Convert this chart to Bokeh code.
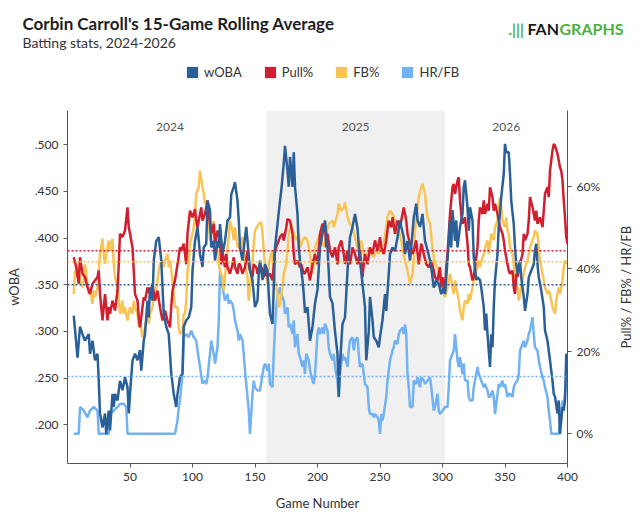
from math import pi

from bokeh.plotting import figure
from bokeh.layouts import column, row
from bokeh.models import (Range1d, LinearAxis, FixedTicker, BoxAnnotation, Span,
                          Label, Legend, LegendItem)
from bokeh.core.properties import value
from bokeh.embed import file_html
from bokeh.resources import INLINE

# 15-game rolling averages, (game number, value)
woba_pts = [
    (5, .317), (8, .272), (10, .305), (12, .297), (14, .290), (17, .297), (18, .276), (20, .290),
    (22, .269), (24, .276), (25, .247), (26, .212), (28, .197), (30, .212), (31, .190), (33, .215),
    (34, .194), (36, .233), (37, .219), (38, .233), (40, .226), (42, .247), (44, .237), (46, .251),
    (48, .240), (49, .212), (50, .233), (52, .269), (54, .276), (56, .269), (58, .280), (59, .258),
    (61, .290), (62, .297), (64, .333), (65, .315), (66, .347), (68, .333), (69, .376), (71, .397),
    (73, .401), (75, .376), (77, .319), (79, .305), (81, .297), (83, .255), (85, .233), (87, .219),
    (88, .233), (90, .251), (92, .255), (93, .305), (95, .312), (97, .315), (99, .326), (100, .365),
    (102, .397), (104, .412), (106, .383), (108, .369), (109, .390), (111, .394), (112, .440),
    (114, .430), (115, .390), (117, .397), (118, .376), (120, .397), (121, .390), (122, .415),
    (124, .383), (126, .397), (128, .419), (130, .422), (131, .447), (133, .455), (134, .460),
    (136, .440), (137, .419), (138, .390), (140, .376), (142, .401), (143, .412), (144, .397),
    (146, .365), (148, .355), (149, .340), (150, .326), (152, .333), (153, .362), (154, .376),
    (156, .355), (158, .372), (160, .365), (161, .340), (162, .319), (164, .308), (165, .347),
    (166, .390), (168, .415), (170, .440), (171, .451), (173, .480), (174, .499), (176, .472),
    (177, .455), (178, .487), (180, .455), (181, .492), (182, .455), (184, .426), (185, .390),
    (186, .376), (188, .355), (189, .340), (190, .320), (192, .326), (194, .290), (196, .305),
    (198, .330), (200, .345), (202, .390), (204, .405), (206, .419), (208, .390), (210, .337),
    (212, .330), (214, .300), (216, .276), (217, .230), (218, .265), (220, .308), (222, .315),
    (224, .365), (226, .401), (228, .412), (230, .426), (232, .410), (234, .376), (236, .351),
    (238, .326), (239, .269), (241, .300), (242, .337), (244, .312), (245, .294), (247, .290),
    (249, .283), (250, .294), (252, .312), (254, .340), (255, .322), (257, .362), (258, .383),
    (260, .390), (262, .386), (264, .401), (266, .419), (267, .412), (269, .401), (270, .383),
    (272, .397), (274, .376), (275, .390), (277, .422), (279, .437), (280, .419), (282, .412),
    (284, .426), (286, .397), (288, .387), (290, .376), (291, .369), (293, .347), (295, .355),
    (297, .351), (299, .340), (301, .347), (302, .340), (304, .376), (306, .419), (307, .390),
    (308, .430), (310, .397), (311, .419), (312, .390), (314, .412), (316, .426), (317, .455),
    (318, .462), (320, .433), (321, .408), (322, .433), (324, .419), (325, .380), (327, .355),
    (328, .358), (330, .355), (331, .347), (333, .326), (334, .301), (335, .319), (336, .297),
    (338, .262), (339, .297), (340, .283), (341, .326), (342, .355), (344, .383), (345, .412),
    (347, .444), (349, .469), (350, .501), (351, .492), (353, .492), (354, .469), (355, .440),
    (357, .415), (358, .390), (359, .372), (360, .362), (362, .376), (363, .358), (365, .337),
    (366, .322), (368, .340), (369, .358), (371, .365), (373, .372), (374, .387), (375, .394),
    (376, .372), (377, .358), (379, .344), (381, .326), (382, .301), (384, .290), (386, .269),
    (388, .247), (389, .233), (390, .230), (392, .212), (393, .226), (394, .190), (396, .219),
    (397, .215), (398, .226), (399, .276), (400, .269),
]

pull_pts = [
    (5, 42.8), (7, 40.4), (9, 36.4), (10, 42.8), (12, 38.8), (14, 38.0), (16, 35.5), (18, 33.9),
    (20, 36.4), (22, 37.2), (24, 38.0), (25, 39.6), (26, 33.9), (28, 27.5), (29, 30.7), (30, 33.9),
    (32, 27.5), (33, 30.7), (34, 29.1), (36, 32.3), (38, 29.9), (40, 34.7), (41, 41.1), (42, 48.5),
    (44, 47.7), (46, 49.3), (48, 54.9), (49, 50.1), (50, 48.5), (52, 45.2), (53, 39.6), (54, 33.9),
    (56, 32.3), (57, 28.3), (58, 25.8), (60, 30.7), (61, 33.1), (62, 32.3), (64, 35.5), (66, 33.9),
    (68, 36.4), (70, 32.3), (72, 34.7), (74, 30.7), (76, 27.5), (78, 29.9), (80, 27.5), (82, 25.8),
    (83, 30.7), (84, 34.7), (86, 37.2), (88, 41.1), (90, 45.2), (91, 44.4), (93, 46.1), (95, 41.1),
    (96, 48.5), (98, 54.1), (100, 52.5), (102, 54.5), (103, 51.7), (104, 50.1), (106, 53.3),
    (107, 54.9), (108, 51.7), (110, 53.3), (112, 56.6), (113, 53.3), (115, 48.5), (117, 50.9),
    (118, 46.1), (120, 49.3), (122, 46.9), (123, 41.1), (124, 44.4), (126, 40.4), (127, 43.6),
    (128, 40.4), (130, 38.8), (132, 41.1), (133, 42.8), (134, 40.4), (136, 38.8), (137, 41.2),
    (138, 41.1), (140, 38.8), (142, 40.4), (144, 44.4), (145, 41.1), (146, 39.6), (148, 38.0),
    (149, 41.1), (151, 40.4), (152, 38.8), (154, 41.2), (156, 39.6), (157, 38.0), (159, 39.6),
    (160, 38.0), (162, 38.8), (164, 37.2), (166, 44.4), (168, 46.1), (170, 47.7), (172, 48.5),
    (173, 46.9), (175, 50.1), (176, 52.1), (178, 51.7), (180, 48.5), (181, 43.6), (182, 41.1),
    (184, 42.0), (186, 40.4), (187, 41.1), (189, 38.8), (190, 39.0), (192, 40.4), (194, 37.2),
    (196, 41.1), (198, 43.6), (200, 41.1), (202, 48.5), (204, 50.9), (206, 50.1), (207, 45.2),
    (208, 48.5), (210, 44.4), (212, 42.8), (214, 45.2), (216, 41.1), (217, 45.2), (219, 46.9),
    (221, 43.6), (222, 41.2), (224, 44.4), (226, 41.1), (228, 45.2), (230, 43.6), (232, 41.1),
    (234, 44.4), (236, 38.0), (237, 41.2), (238, 43.6), (240, 41.1), (242, 45.2), (244, 43.6),
    (246, 46.9), (248, 44.4), (250, 47.7), (251, 45.2), (253, 43.6), (255, 46.9), (257, 51.7),
    (259, 50.1), (260, 52.5), (262, 48.5), (264, 51.7), (266, 50.1), (268, 53.3), (269, 54.9),
    (271, 51.7), (272, 48.5), (274, 46.1), (276, 43.6), (277, 44.4), (279, 46.9), (281, 41.1),
    (283, 46.1), (285, 43.6), (287, 41.2), (289, 40.4), (291, 42.0), (293, 39.6), (294, 38.0),
    (296, 37.2), (298, 40.4), (299, 35.5), (300, 38.0), (302, 34.7), (303, 40.4), (304, 43.6),
    (305, 48.5), (306, 53.3), (308, 59.8), (309, 60.6), (310, 58.2), (312, 61.4), (313, 62.2),
    (314, 56.6), (315, 53.3), (316, 50.9), (318, 52.5), (319, 49.3), (320, 46.1), (321, 41.1),
    (322, 40.4), (324, 37.2), (325, 38.0), (326, 40.4), (328, 45.2), (329, 51.7), (330, 54.9),
    (332, 53.3), (333, 56.6), (334, 53.3), (336, 55.8), (337, 54.1), (338, 59.8), (340, 57.4),
    (341, 54.1), (342, 55.8), (344, 53.3), (345, 51.7), (346, 50.1), (348, 48.5), (349, 46.9),
    (350, 44.4), (352, 41.1), (353, 39.6), (354, 38.8), (356, 39.6), (357, 35.5), (358, 33.9),
    (359, 38.8), (360, 38.0), (362, 41.1), (364, 43.6), (365, 48.5), (366, 46.9), (368, 48.5),
    (369, 51.7), (370, 57.4), (372, 55.0), (374, 51.7), (375, 54.1), (376, 50.9), (378, 52.5),
    (380, 50.1), (381, 54.1), (382, 58.2), (384, 59.8), (385, 57.4), (386, 63.8), (388, 68.7),
    (389, 70.3), (390, 69.9), (392, 67.9), (393, 66.3), (394, 64.6), (395, 63.8), (396, 61.4),
    (397, 56.6), (398, 52.5), (399, 47.7), (400, 46.0),
]

fb_pts = [
    (5, 33.9), (6, 39.6), (8, 38.0), (9, 41.2), (10, 37.2), (12, 35.5), (13, 37.2), (14, 41.2),
    (16, 36.4), (17, 33.9), (18, 35.5), (20, 31.5), (21, 34.7), (22, 33.1), (24, 35.5), (25, 39.6),
    (26, 43.6), (28, 47.3), (29, 43.6), (30, 41.2), (32, 45.2), (33, 46.9), (34, 44.4), (36, 47.3),
    (37, 41.1), (38, 38.0), (40, 35.5), (41, 32.3), (42, 29.1), (44, 32.3), (45, 29.1), (46, 30.7),
    (48, 27.5), (49, 29.1), (50, 30.7), (52, 29.1), (53, 32.3), (54, 30.7), (56, 29.1), (57, 25.8),
    (58, 27.5), (60, 23.4), (61, 24.2), (62, 25.8), (64, 29.1), (65, 26.7), (66, 29.1), (68, 30.7),
    (69, 33.9), (70, 32.3), (72, 37.2), (73, 39.6), (74, 41.2), (76, 42.0), (77, 40.4), (78, 42.0),
    (80, 43.6), (81, 40.4), (82, 42.0), (84, 37.2), (85, 33.9), (86, 30.7), (88, 30.7), (89, 25.8),
    (90, 24.2), (92, 25.0), (93, 29.1), (94, 29.1), (95, 32.3), (96, 39.6), (97, 41.2), (98, 46.1),
    (100, 48.5), (101, 50.1), (102, 53.3), (103, 58.2), (105, 59.8), (106, 63.8), (108, 59.8),
    (109, 58.2), (110, 55.8), (112, 56.6), (113, 51.7), (114, 46.9), (116, 49.3), (117, 51.7),
    (118, 45.2), (119, 47.7), (121, 41.1), (122, 39.6), (124, 38.0), (125, 34.7), (126, 38.0),
    (128, 45.2), (129, 47.7), (130, 51.7), (132, 49.3), (133, 46.9), (134, 50.1), (136, 45.2),
    (137, 46.1), (138, 44.4), (140, 47.7), (141, 45.2), (142, 41.1), (144, 38.0), (145, 32.3),
    (146, 35.5), (148, 41.1), (149, 46.1), (150, 49.3), (153, 50.9), (155, 51.3), (156, 48.5),
    (157, 44.4), (158, 41.1), (159, 38.8), (160, 36.4), (161, 41.1), (163, 43.6), (164, 44.4),
    (165, 40.4), (166, 37.2), (168, 33.9), (169, 30.7), (170, 31.5), (172, 35.5), (173, 38.8),
    (175, 41.1), (176, 44.4), (177, 48.5), (179, 50.9), (181, 48.5), (183, 46.9), (185, 48.5),
    (186, 45.2), (188, 46.9), (190, 47.7), (192, 46.9), (194, 43.6), (196, 38.8), (197, 41.2),
    (198, 45.2), (200, 46.9), (202, 48.5), (204, 46.1), (206, 45.2), (207, 48.5), (209, 50.9),
    (212, 51.7), (213, 50.1), (216, 53.3), (217, 55.8), (219, 54.1), (221, 54.9), (222, 56.1),
    (224, 52.5), (226, 50.9), (228, 50.1), (230, 47.7), (232, 45.2), (233, 43.6), (235, 46.9),
    (237, 43.6), (239, 42.0), (241, 45.2), (243, 43.6), (245, 42.8), (247, 44.4), (249, 43.6),
    (251, 45.2), (253, 46.1), (255, 50.1), (256, 52.5), (258, 54.1), (260, 53.3), (262, 51.7),
    (264, 48.5), (265, 49.3), (267, 46.9), (269, 43.6), (270, 42.0), (272, 39.6), (273, 38.0),
    (274, 36.4), (276, 38.8), (277, 42.0), (278, 49.3), (280, 54.9), (281, 57.4), (283, 59.8),
    (284, 60.6), (286, 58.2), (287, 55.0), (288, 52.5), (290, 51.0), (292, 45.0), (294, 41.2),
    (296, 40.4), (298, 37.2), (300, 35.0), (302, 33.1), (304, 35.5), (305, 37.2), (306, 38.8),
    (308, 35.5), (309, 33.9), (310, 37.2), (312, 33.9), (313, 32.3), (314, 29.9), (316, 27.5),
    (317, 30.7), (318, 32.3), (320, 31.5), (321, 33.9), (322, 32.3), (324, 35.5), (325, 37.2),
    (326, 38.8), (328, 40.4), (329, 42.0), (330, 40.4), (332, 42.8), (333, 43.6), (334, 45.2),
    (336, 46.9), (337, 43.6), (338, 46.1), (339, 48.5), (341, 46.9), (342, 50.1), (344, 51.7),
    (345, 55.0), (346, 57.4), (347, 55.0), (348, 51.7), (350, 50.1), (351, 52.5), (352, 49.3),
    (353, 48.5), (354, 45.2), (356, 43.6), (357, 41.2), (358, 38.0), (360, 35.5), (361, 32.3),
    (362, 33.9), (364, 37.2), (365, 38.8), (366, 40.4), (368, 42.0), (369, 43.6), (370, 45.2),
    (372, 46.9), (373, 47.7), (374, 49.3), (376, 48.5), (377, 45.2), (378, 42.0), (380, 38.8),
    (381, 37.2), (382, 35.5), (384, 33.9), (385, 34.7), (386, 33.9), (388, 30.7), (389, 29.9),
    (390, 29.1), (391, 32.3), (393, 35.5), (394, 33.9), (396, 37.2), (397, 40.4), (398, 42.0),
    (400, 41.2),
]

hrfb_pts = [
    (5, 0.0), (9, 0.0), (10, 6.5), (13, 5.6), (16, 4.0), (18, 5.6), (21, 6.5), (24, 5.6), (25, 0.0),
    (33, 0.0), (34, 4.8), (37, 5.6), (40, 6.5), (42, 7.3), (45, 7.3), (47, 6.5), (48, 0.0), (86, 0.0),
    (88, 3.2), (89, 6.5), (90, 8.1), (92, 14.5), (93, 23.4), (95, 24.2), (97, 23.4), (99, 25.0),
    (101, 23.4), (103, 22.6), (104, 20.2), (106, 16.2), (108, 12.1), (109, 12.9), (111, 12.1),
    (112, 13.7), (114, 19.4), (115, 22.6), (117, 19.4), (118, 17.0), (120, 21.0), (121, 27.5),
    (122, 39.6), (124, 35.5), (125, 33.9), (126, 32.3), (128, 33.9), (129, 31.5), (130, 32.3),
    (132, 31.5), (133, 29.9), (134, 27.5), (136, 25.0), (137, 22.6), (138, 24.2), (140, 22.6),
    (141, 19.4), (142, 15.3), (144, 8.9), (145, 5.6), (146, 0.0), (148, 9.7), (149, 12.9),
    (150, 11.3), (152, 10.5), (154, 10.5), (156, 14.5), (157, 16.2), (158, 17.0), (160, 15.3),
    (161, 17.0), (162, 12.1), (164, 11.3), (165, 19.4), (166, 25.8), (167, 30.7), (168, 33.1),
    (170, 35.5), (171, 33.9), (173, 32.3), (174, 29.1), (176, 30.7), (177, 25.8), (178, 26.7),
    (180, 24.2), (181, 27.5), (182, 21.0), (184, 24.2), (185, 19.4), (186, 18.6), (188, 16.2),
    (189, 17.8), (190, 14.5), (191, 19.4), (193, 17.8), (194, 15.4), (196, 12.9), (197, 12.1),
    (198, 14.5), (200, 24.2), (201, 25.8), (202, 24.2), (204, 25.8), (205, 24.2), (206, 26.7),
    (208, 25.0), (209, 21.0), (210, 19.4), (212, 17.8), (213, 19.4), (214, 16.2), (216, 12.9),
    (217, 8.9), (218, 14.5), (220, 19.4), (221, 17.8), (222, 18.6), (224, 16.2), (225, 20.2),
    (226, 22.6), (228, 23.4), (229, 20.2), (230, 22.6), (232, 23.4), (233, 19.4), (234, 16.2),
    (236, 17.0), (237, 14.5), (238, 12.1), (240, 11.3), (241, 6.5), (242, 4.8), (244, 4.8),
    (245, 4.0), (246, 4.8), (248, 4.0), (249, 3.2), (250, 0.0), (251, 4.8), (252, 3.2), (253, 4.8),
    (255, 8.9), (256, 12.9), (258, 17.8), (260, 20.2), (261, 21.0), (262, 22.6), (264, 21.8),
    (265, 24.2), (266, 25.0), (268, 25.8), (269, 24.2), (270, 26.5), (271, 24.2), (272, 14.5),
    (273, 11.3), (274, 6.5), (276, 6.5), (277, 12.9), (279, 12.1), (280, 13.7), (282, 11.3),
    (283, 13.7), (285, 12.9), (286, 12.1), (288, 12.9), (290, 13.7), (291, 11.3), (293, 5.6),
    (294, 6.5), (296, 9.7), (297, 5.6), (298, 4.8), (300, 5.6), (302, 6.5), (304, 6.5), (305, 11.3),
    (306, 17.8), (308, 19.4), (309, 20.2), (310, 24.2), (312, 17.8), (313, 16.2), (314, 18.6),
    (316, 14.5), (317, 17.0), (318, 12.9), (320, 12.9), (321, 8.9), (322, 8.1), (324, 8.1),
    (325, 11.3), (326, 12.9), (328, 16.2), (329, 14.5), (330, 13.7), (332, 12.1), (333, 11.3),
    (334, 12.1), (336, 10.5), (337, 8.9), (338, 8.9), (340, 10.5), (341, 8.9), (342, 4.8),
    (344, 9.7), (345, 12.1), (346, 11.3), (348, 12.9), (349, 11.3), (350, 12.1), (352, 8.9),
    (353, 9.7), (354, 9.7), (356, 8.9), (357, 11.3), (358, 12.1), (360, 12.9), (361, 14.5),
    (362, 20.2), (364, 21.8), (365, 22.6), (366, 21.0), (368, 22.6), (369, 24.2), (370, 25.0),
    (372, 28.3), (373, 24.2), (374, 21.0), (376, 20.2), (377, 17.8), (378, 16.2), (380, 13.7),
    (381, 12.9), (382, 11.3), (384, 8.9), (385, 5.6), (386, 3.2), (387, 0.0), (393, 0.0),
    (394, 3.2), (396, 8.1), (397, 6.5), (398, 9.7), (399, 12.9), (400, 14.0),
]

# averages over the whole span (dotted lines)
avg_woba = 0.350
avg_pull = 44.4
avg_fb = 41.7
avg_hrfb = 13.9

seasons = ["2024", "2025", "2026"]
season_bounds = [5, 159, 302, 400]

woba_ticks = [0.20, 0.25, 0.30, 0.35, 0.40, 0.45, 0.50]
woba_tick_labels = [".200", ".250", ".300", ".350", ".400", ".450", ".500"]
pct_ticks = [0, 20, 40, 60]
pct_tick_labels = ["0%", "20%", "40%", "60%"]
game_ticks = [50, 100, 150, 200, 250, 300, 350, 400]

names = ["wOBA", "Pull%", "FB%", "HR/FB"]
colors = ["#2a5f98", "#d21f30", "#f8c455", "#72b2f2"]

FONT = "Lato"
TXT = "#333333"
AX = "#555555"
W = 636
SIDE = 20
NAN = float("nan")

# ---- header: title, subtitle, logo, legend ----
head = figure(width=W, height=100, output_backend="svg", toolbar_location=None,
              x_range=Range1d(0, W), y_range=Range1d(100, 0),
              x_axis_type=None, y_axis_type=None, min_border=0)
head.frame_align = False
head.outline_line_color = None
head.xgrid.visible = False
head.ygrid.visible = False

head.add_layout(Label(x=22, y=22.7, text="Corbin Carroll's 15-Game Rolling Average",
                      text_baseline="alphabetic", text_font=FONT, text_font_size="17px",
                      text_font_style="bold", text_color="#1e1e1e"))
head.add_layout(Label(x=22, y=41.7, text="Batting stats, 2024-2026",
                      text_baseline="alphabetic", text_font=FONT, text_font_size="14px",
                      text_color=TXT))
head.add_layout(Label(x=508, y=28.3, text=".|||", text_baseline="alphabetic",
                      text_font=FONT, text_font_size="15px", text_font_style="bold",
                      text_color="#4fae3f"))
head.add_layout(Label(x=527, y=28.3, text="FAN", text_baseline="alphabetic",
                      text_font=FONT, text_font_size="16px", text_font_style="bold",
                      text_color="#1a1a1a"))
head.add_layout(Label(x=559, y=28.3, text="GRAPHS", text_baseline="alphabetic",
                      text_font=FONT, text_font_size="16px", text_font_style="bold",
                      text_color="#4fae3f"))

# square swatches: one NaN quad per series, so only the legend shows them
items = []
for name, color in zip(names, colors):
    r = head.quad(left=[NAN], right=[NAN], top=[NAN], bottom=[NAN],
                  fill_color=color, line_color=None)
    items.append(LegendItem(label=name, renderers=[r]))
legend = Legend(items=items, orientation="horizontal", location=(185, 20.5),
                glyph_width=14, glyph_height=14, label_standoff=5, spacing=21,
                label_height=14, padding=0, margin=0, border_line_color=None,
                background_fill_alpha=0, label_text_font=FONT, label_text_font_size="13px",
                label_text_color=TXT)
head.add_layout(legend)

# ---- main chart ----
p = figure(width=W - SIDE, height=414, output_backend="svg", toolbar_location=None,
           x_range=Range1d(0, 400), y_range=Range1d(0.1584, 0.5368),
           min_border_left=67, min_border_right=W - SIDE - 567, min_border_top=10,
           min_border_bottom=51)
p.frame_align = False
p.extra_y_ranges = {"pct": Range1d(-7.2, 78.4)}
p.outline_line_color = None
p.xgrid.visible = False
p.ygrid.visible = False

# 2025 season shading
p.add_layout(BoxAnnotation(left=season_bounds[1], right=season_bounds[2],
                           fill_color="#f0f0f0", fill_alpha=1.0, line_color=None,
                           level="underlay"))

# year labels
mids = [(a + b) / 2 for a, b in zip(season_bounds[:-1], season_bounds[1:])]
p.text(x=mids, y=[0.5195] * 3, text=seasons, text_align="center", text_baseline="middle",
       text_font=value(FONT), text_font_size="12px", text_color="#555555")

# average lines
p.add_layout(Span(location=avg_hrfb, dimension="width", y_range_name="pct",
                  line_color=colors[3], line_dash="2 2", line_width=1.5))
p.add_layout(Span(location=avg_woba, dimension="width",
                  line_color=colors[0], line_dash="2 2", line_width=1.5))
p.add_layout(Span(location=avg_fb, dimension="width", y_range_name="pct",
                  line_color=colors[2], line_dash="2 2", line_width=1.5))
p.add_layout(Span(location=avg_pull, dimension="width", y_range_name="pct",
                  line_color=colors[1], line_dash="2 2", line_width=1.5))

# series
hx, hy = zip(*hrfb_pts)
fx, fy = zip(*fb_pts)
px, py = zip(*pull_pts)
wx, wy = zip(*woba_pts)
p.line(list(hx), list(hy), y_range_name="pct", line_color=colors[3], line_width=2.5)
p.line(list(fx), list(fy), y_range_name="pct", line_color=colors[2], line_width=2.5)
p.line(list(px), list(py), y_range_name="pct", line_color=colors[1], line_width=2.5)
p.line(list(wx), list(wy), line_color=colors[0], line_width=2.5)

# axes
p.xaxis.ticker = FixedTicker(ticks=game_ticks)
p.xaxis.axis_label = "Game Number"
p.xaxis.axis_label_standoff = 11
p.yaxis.ticker = FixedTicker(ticks=woba_ticks)
p.yaxis.major_label_overrides = dict(zip(woba_ticks, woba_tick_labels))
p.yaxis.axis_label = "wOBA"
p.yaxis.axis_label_standoff = 10

right = LinearAxis(y_range_name="pct", ticker=FixedTicker(ticks=pct_ticks),
                   major_label_overrides=dict(zip(pct_ticks, pct_tick_labels)))
p.add_layout(right, "right")

for ax in [p.xaxis[0], p.yaxis[0], right]:
    ax.axis_line_color = AX
    ax.major_tick_line_color = AX
    ax.major_tick_out = 4
    ax.major_tick_in = 0
    ax.minor_tick_line_color = None
    ax.major_label_text_font = FONT
    ax.major_label_text_font_size = "12px"
    ax.major_label_text_color = TXT
    ax.axis_label_text_font = FONT
    ax.axis_label_text_font_size = "13px"
    ax.axis_label_text_font_style = "normal"
    ax.axis_label_text_color = TXT

# ---- right-hand axis title, reading bottom to top ----
side = figure(width=SIDE, height=414, output_backend="svg", toolbar_location=None,
              x_range=Range1d(0, SIDE), y_range=Range1d(414, 0),
              x_axis_type=None, y_axis_type=None, min_border=0)
side.frame_align = False
side.outline_line_color = None
side.xgrid.visible = False
side.ygrid.visible = False
side.add_layout(Label(x=9, y=186.7, angle=pi / 2, text="Pull% / FB% / HR/FB",
                      text_align="center", text_baseline="middle", text_font=FONT,
                      text_font_size="13px", text_color=TXT))

layout = column(head, row(p, side))
open("out.html", "w").write(file_html(layout, INLINE))
